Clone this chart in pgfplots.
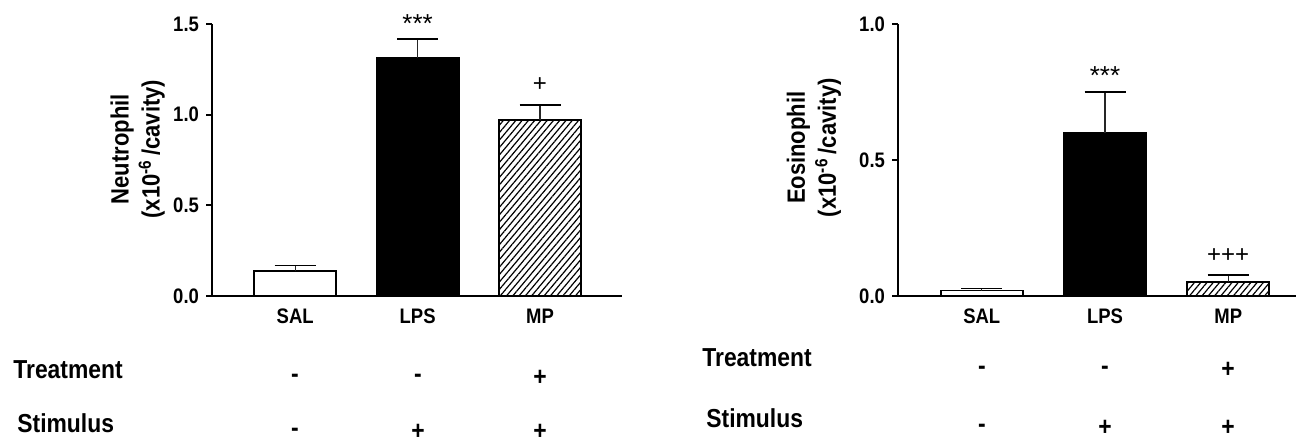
\documentclass[border=0pt]{standalone}
\usepackage{fontspec}
\setmainfont{Liberation Sans}[FakeStretch=0.88]
\newfontfamily\plainfont{Liberation Sans}
\usepackage{pgfplots}
\pgfplotsset{compat=1.18}
\usetikzlibrary{patterns.meta}

\pgfplotsset{
  panel/.style={
    anchor=south west, scale only axis, height=136pt,
    ymin=0,
    axis x line=bottom, axis y line=left,
    axis line style={-, line width=1.1pt},
    xtick={0,1,2}, xticklabels={SAL,LPS,MP},
    x tick style={draw=none},
    tick align=outside, major tick length=3pt,
    y tick style={line width=0.9pt, black},
    ticklabel style={font=\bfseries\fontsize{10.5}{11}\selectfont},
    xticklabel style={yshift=0pt},
    /pgf/number format/assume math mode=true,
    yticklabel style={/pgf/number format/.cd, fixed, fixed zerofill, precision=1},
    ylabel style={font=\bfseries\fontsize{12.5}{15.5}\selectfont, align=center, anchor=south},
    clip=false,
  },
  sbar/.style={ybar, bar width=41pt, bar shift=0pt, draw=black, line width=0.9pt,
    error bars/y dir=plus, error bars/y explicit,
    error bars/error bar style={line width=0.6pt, black!85},
    error bars/error mark options={rotate=90, mark size=10.25pt, line width=0.75pt, black}},
  hatch/.style={pattern={Lines[angle=50,distance=2.4pt,line width=0.6pt]}},
}

\begin{document}
\begin{tikzpicture}
\useasboundingbox (0,0) rectangle (649pt,-222pt);

% ---------- Left panel: Neutrophil ----------
\begin{axis}[panel,
  at={(106pt,-148pt)}, width=205pt,
  xmin=-0.68, xmax=2.67, ymax=1.5,
  ytick={0,0.5,1,1.5},
  ylabel={Neutrophil\\(x10\textsuperscript{-6}\,/cavity)},
  ylabel style={at={(axis description cs:-0.098,0.54)}},
]
\addplot[sbar, fill=white] coordinates {(0,0.14) +- (0,0.027)};
\addplot[sbar, fill=black] coordinates {(1,1.313) +- (0,0.104)};
\addplot[sbar, fill=white, hatch]
  coordinates {(2,0.971) +- (0,0.082)};
\node[font=\plainfont\fontsize{13}{13}\selectfont] at (axis cs:1,1.5) {***};
\node[font=\plainfont\fontsize{12}{12}\selectfont] at (axis cs:2,1.167) {+};
\end{axis}

% ---------- Right panel: Eosinophil ----------
\begin{axis}[panel,
  at={(449pt,-148pt)}, width=199pt,
  xmin=-0.68, xmax=2.55, ymax=1.0,
  ytick={0,0.5,1},
  ylabel={Eosinophil\\(x10\textsuperscript{-6}\,/cavity)},
  ylabel style={at={(axis description cs:-0.125,0.545)}},
]
\addplot[sbar, fill=white] coordinates {(0,0.02) +- (0,0.007)};
\addplot[sbar, fill=black] coordinates {(1,0.599) +- (0,0.151)};
\addplot[sbar, fill=white, hatch]
  coordinates {(2,0.05) +- (0,0.028)};
\node[font=\plainfont\fontsize{13}{13}\selectfont] at (axis cs:1,0.81) {***};
\node[font=\plainfont\fontsize{12}{12}\selectfont] at (axis cs:2,0.15) {+++};
\end{axis}

% ---------- Treatment / Stimulus rows ----------
\begin{scope}[x=0.5pt, y=-0.5pt, font=\bfseries\fontsize{13}{14}\selectfont]
\node[anchor=west, inner sep=0pt] at (13,370) {Treatment};
\node[anchor=west, inner sep=0pt] at (17,423) {Stimulus};
\node at (295,378) {-}; \node at (418,378) {-}; \node at (540,378) {+};
\node at (295,432) {-}; \node at (418,432) {+}; \node at (540,432) {+};

\node[anchor=west, inner sep=0pt] at (702,358) {Treatment};
\node[anchor=west, inner sep=0pt] at (706,418) {Stimulus};
\node at (982,370) {-}; \node at (1105,370) {-}; \node at (1228,370) {+};
\node at (982,428) {-}; \node at (1105,428) {+}; \node at (1228,428) {+};
\end{scope}
\end{tikzpicture}
\end{document}
